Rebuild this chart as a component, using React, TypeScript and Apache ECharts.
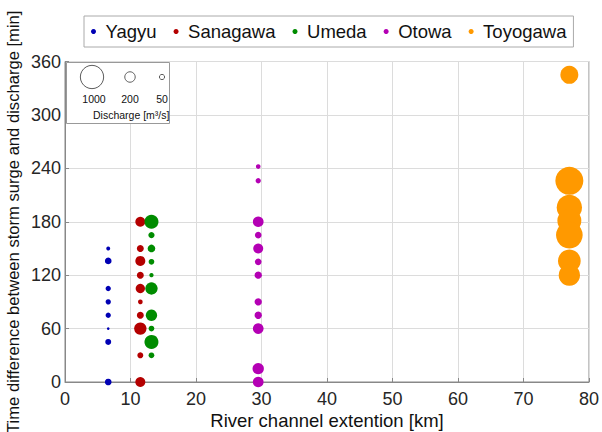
import React, { useEffect, useRef } from "react";
import * as echarts from "echarts";

// River names (legend order) and their channel extension [km]
const riverNames = ["Yagyu", "Sanagawa", "Umeda", "Otowa", "Toyogawa"];
const riverExtentKm = [6.6, 11.5, 13.2, 29.5, 77.0];
const riverColors = ["#0000b4", "#b40000", "#008c00", "#b400b4", "#ff9900"];

// Time difference [min] and discharge [m3/s] per river
const yagyuTime = [150, 136, 105, 90, 75, 60, 45, 0];
const yagyuQ = [29, 82, 52, 52, 52, 13, 65, 82];

const sanagawaTime = [180, 150, 136, 120, 105, 90, 75, 60, 30, 0];
const sanagawaQ = [184, 90, 184, 90, 160, 40, 90, 280, 66, 184];

const umedaTime = [180, 165, 150, 135, 120, 105, 75, 60, 45, 30];
const umedaQ = [361, 73, 109, 60, 34, 280, 236, 60, 361, 60];

const otowaTime = [242, 226, 180, 165, 150, 135, 120, 90, 75, 60, 15, 0];
const otowaQ = [40, 52, 210, 82, 184, 82, 99, 99, 99, 210, 236, 210];

const toyogawaTime = [345, 226, 196, 181, 165, 136, 120];
const toyogawaQ = [597, 1444, 1180, 1060, 1310, 950, 840];

const riverTimes = [yagyuTime, sanagawaTime, umedaTime, otowaTime, toyogawaTime];
const riverQs = [yagyuQ, sanagawaQ, umedaQ, otowaQ, toyogawaQ];

// Size legend
const sizeLegendQ = [1000, 200, 50];
const sizeLegendLabels = ["1000", "200", "50"];

// Axis ticks
const xTicks = { min: 0, max: 80, interval: 10 };
const yTicks = { min: 0, max: 360, interval: 60 };

const D1000 = 23.3; // marker diameter (px) for 1000 m3/s, area-proportional
const sizeOf = (q: number) => D1000 * Math.sqrt(q / 1000);

const FONT = "Liberation Sans";

export default function App() {
  const ref = useRef<HTMLDivElement>(null);
  useEffect(() => {
    document.body.style.margin = "0";
    document.body.style.overflow = "hidden";
    if (!ref.current) return;
    const chart = echarts.init(ref.current, undefined, { renderer: "svg", width: 602, height: 432 });

    const series = riverNames.map((name, i) => ({
      name,
      type: "scatter",
      data: riverTimes[i].map((t, j) => [riverExtentKm[i], t, riverQs[i][j]]),
      symbol: "circle",
      symbolSize: (v: number[]) => sizeOf(v[2]),
      itemStyle: { color: riverColors[i], opacity: 1 },
      emphasis: { disabled: true },
    }));

    const legendCenters = [92, 130, 162];
    const graphicChildren: any[] = [
      {
        type: "rect",
        shape: { x: 66.5, y: 62.5, width: 103, height: 61 },
        style: { fill: "#fff", stroke: "#999", lineWidth: 1 },
        z: 100,
      },
    ];
    sizeLegendQ.forEach((q, i) => {
      graphicChildren.push({
        type: "circle",
        shape: { cx: legendCenters[i], cy: 77, r: sizeOf(q) / 2 },
        style: { fill: "none", stroke: "#333", lineWidth: 0.8 },
        z: 101,
      });
      graphicChildren.push({
        type: "text",
        x: legendCenters[i] + (i === 0 ? 2 : 0),
        y: 99,
        style: {
          text: sizeLegendLabels[i],
          fontSize: 10.5,
          fontFamily: FONT,
          fill: "#111",
          align: "center",
          verticalAlign: "middle",
        },
        z: 101,
      });
    });
    graphicChildren.push({
      type: "text",
      x: 93,
      y: 115,
      style: {
        text: "Discharge [m\u00B3/s]",
        fontSize: 10.5,
        fontFamily: FONT,
        fill: "#111",
        align: "left",
        verticalAlign: "middle",
      },
      z: 101,
    });

    chart.setOption({
      animation: false,
      backgroundColor: "#fff",
      textStyle: { fontFamily: FONT },
      grid: {
        left: 65,
        right: 13,
        top: 61.5,
        bottom: 50,
        containLabel: false,
        outerBoundsMode: "none",
        show: true,
        borderColor: "#888",
        borderWidth: 1,
        backgroundColor: "transparent",
      },
      legend: {
        data: riverNames,
        left: 84,
        top: 16,
        orient: "horizontal",
        icon: "circle",
        itemWidth: 14,
        itemHeight: 5,
        itemGap: 17,
        padding: [6, 7, 6, 7],
        borderColor: "#aaa",
        borderWidth: 1,
        backgroundColor: "#fff",
        textStyle: { fontSize: 18.5, color: "#111", fontFamily: FONT },
      },
      xAxis: {
        type: "value",
        min: xTicks.min,
        max: xTicks.max,
        interval: xTicks.interval,
        name: "River channel extention [km]",
        nameLocation: "middle",
        nameGap: 28,
        nameMoveOverlap: false,
        nameTextStyle: { fontSize: 18.5, lineHeight: 20, color: "#111", fontFamily: FONT },
        axisLine: { show: true, onZero: false, lineStyle: { color: "#888" } },
        axisTick: { show: true, inside: true, length: 4, lineStyle: { color: "#888" } },
        axisLabel: { fontSize: 18, lineHeight: 18, color: "#262626", margin: 8, fontFamily: FONT },
        splitLine: { show: true, lineStyle: { color: "#dcdcdc", width: 1 } },
      },
      yAxis: {
        type: "value",
        min: yTicks.min,
        max: yTicks.max,
        interval: yTicks.interval,
        name: "Time difference between storm surge and discharge [min]",
        nameLocation: "middle",
        nameGap: 43,
        nameMoveOverlap: false,
        nameTextStyle: { fontSize: 16.6, color: "#111", fontFamily: FONT },
        axisLine: { show: true, onZero: false, lineStyle: { color: "#888" } },
        axisTick: { show: true, inside: true, length: 4, lineStyle: { color: "#888" } },
        axisLabel: { fontSize: 18, color: "#262626", margin: 4, fontFamily: FONT },
        splitLine: { show: true, lineStyle: { color: "#dcdcdc", width: 1 } },
      },
      graphic: [{ type: "group", children: graphicChildren }],
      series,
    });

    return () => chart.dispose();
  }, []);

  return <div ref={ref} style={{ width: 602, height: 432 }} />;
}
